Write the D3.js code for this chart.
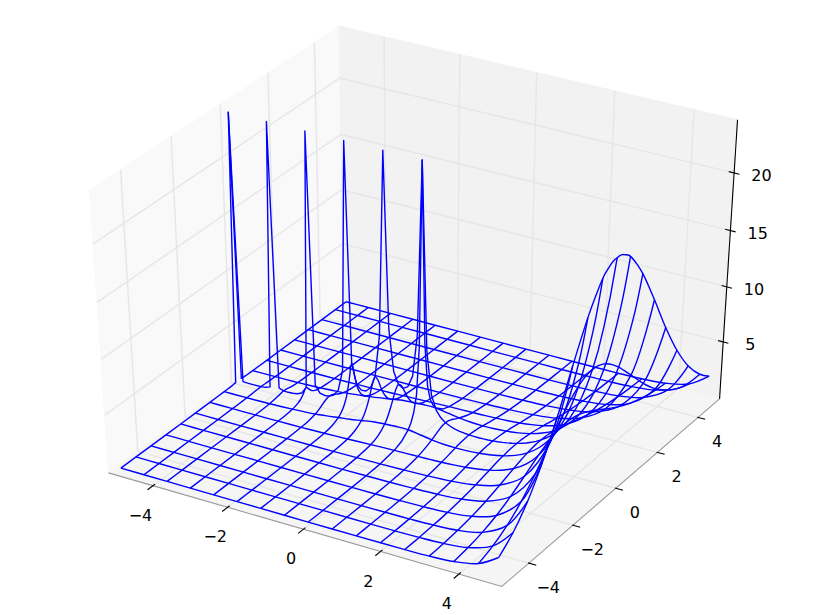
<!DOCTYPE html>
<html><head><meta charset="utf-8">
<script src="https://cdn.jsdelivr.net/npm/d3@7"></script>
<style>html,body{margin:0;padding:0;background:#fff}svg{display:block}text{font-family:"DejaVu Sans";font-size:16px;fill:#000}</style>
</head><body><svg id="c" width="815" height="615"></svg>
<script>
// ---- data ----
const xTicks=[-4,-2,0,2,4], yTicks=[-4,-2,0,2,4], zTicks=[5,10,15,20];
const xGrid=[-5,-4.375,-3.75,-3.125,-2.5,-1.875,-1.25,-0.625,0,0.625,1.25,1.875,2.5,3.125,3.75,4.375,4.875];
const yKnots=[0,.125,.25,.375,.5,.625,.9375,1.25,1.875,2.5,3.125,3.75,4.375,5];
const rowYs=[1.875,2.5,3.125,3.75,4.375];
const yEdgeBack=4.875;
// x positions of the finely read rows
const rowZeroX=[-5,-4.875,-4.75,-4.625,-4.5,-4.375,-4.25,-4.125,-4,-3.875,-3.75,-3.625,-3.5,-3.375,-3.25,-3.125,-3,
-2.875,-2.75,-2.625,-2.5,-2.375,-2.25,-2.125,-2,-1.875,-1.75,-1.625,-1.5,-1.375,-1.25,-1.125,-1,-0.875,
-0.75,-0.625,-0.5,-0.375,-0.25,-0.125,0,0.125,0.25,0.375,0.5,0.625,0.75,0.875,1,1.125,1.25,
1.375,1.5,1.625,1.75,1.875,2,2.125,2.25,2.375,2.5,2.625,2.75,2.875,3,3.125,3.25,3.375,
3.5,3.625,3.75,3.875,4,4.125,4.25,4.375,4.5,4.625,4.75,4.875];
const rowZero=[24,.085,.056,.053,.060,.079,.126,.283,24,.412,.268,.245,.270,.347,.536,1.17,24,
1.60,1.00,.889,.945,1.17,1.74,3.65,24,4.59,2.76,2.33,2.36,2.78,3.92,7.75,24,8.61,
4.83,3.79,3.54,3.83,4.90,8.72,24,7.53,3.63,2.37,1.77,1.43,1.23,1.09,1.000,.942,.906,
.889,.886,.897,.919,.953,1.00,1.06,1.13,1.22,1.33,1.46,1.61,1.79,2.00,2.25,2.55,2.90,
3.32,3.82,4.42,5.14,6.00,7.04,8.29,9.80,11.6,13.9,16.6,19.9];
const fineX=[-5,-4.6875,-4.375,-4.0625,-3.75,-3.4375,-3.125,-2.8125,-2.5,-2.1875,-1.875,-1.5625,-1.25,-0.9375,-0.625,-0.3125,0,
0.3125,0.625,0.9375,1.25,1.5625,1.875,2.1875,2.5,2.8125,3.125,3.4375,3.75,4.0625,4.375,4.6875,4.875];
const rowP625=[.008,.013,.021,.036,.056,.085,.134,.198,.277,.399,.542,.683,.866,1.05,1.14,1.20,1.20,
1.04,.866,.762,.729,.754,.835,.980,1.21,1.56,2.09,2.91,4.17,6.15,9.32,14.5,19.1];
const rowP1250=[.001,.002,.003,.006,.009,.014,.022,.033,.048,.068,.095,.127,.164,.205,.246,.283,.315,
.339,.360,.387,.427,.488,.581,.719,.925,1.23,1.69,2.40,3.50,5.24,8.04,12.6,16.7];
// columns x = const: one line per xGrid value, sampled at yKnots
const colZ=[
[24,.065,.030,.018,.012,.008,.003,.001,0,0,0,0,0,0],
[.079,.073,.058,.043,.030,.021,.008,.003,.001,0,0,0,0,0],
[.268,.233,.170,.118,.081,.056,.022,.009,.002,0,0,0,0,0],
[1.17,.805,.474,.300,.198,.134,.053,.022,.004,.001,0,0,0,0],
[.945,.879,.721,.544,.393,.277,.114,.048,.009,.002,0,0,0,0],
[4.59,3.17,1.88,1.19,.793,.542,.221,.095,.019,.004,.001,0,0,0],
[3.92,3.42,2.52,1.77,1.23,.866,.369,.164,.036,.009,.002,.001,0,0],
[3.79,3.50,2.84,2.14,1.57,1.14,.517,.246,.062,.017,.005,.002,0,0],
[24,7.90,3.80,2.39,1.65,1.20,.595,.315,.096,.031,.010,.004,.001,0],
[1.43,1.40,1.30,1.16,1.01,.866,.566,.360,.142,.055,.021,.008,.003,.001],
[.906,.898,.874,.835,.786,.729,.573,.427,.214,.099,.044,.019,.008,.003],
[.953,.948,.933,.908,.875,.835,.714,.581,.345,.184,.092,.044,.020,.009],
[1.33,1.32,1.31,1.28,1.25,1.21,1.08,.925,.614,.367,.203,.106,.053,.026],
[2.25,2.24,2.23,2.19,2.15,2.09,1.91,1.69,1.22,.790,.474,.268,.144,.074],
[4.42,4.41,4.38,4.33,4.26,4.17,3.87,3.50,2.65,1.84,1.18,.710,.406,.222],
[9.80,9.78,9.72,9.62,9.49,9.32,8.76,8.04,6.34,4.60,3.11,1.98,1.20,.691],
[19.9,19.9,19.8,19.6,19.4,19.1,18.0,16.7,13.5,10.1,7.09,4.68,2.93,1.76]];
// values on the far edge y = 4.875, one per xGrid value
const edgeBackZ=[0,0,0,0,0,0,0,0,.001,.001,.004,.011,.030,.085,.252,.777,1.96];

// ---- scales and projection ----
const sx=d3.scaleLinear().domain([-5.206,5.081]).range([0,1]);
const sy=d3.scaleLinear().domain([-5.206,5.081]).range([0,1]);
const sz=d3.scaleLinear().domain([-0.3,24.5]).range([0,1]);
const elev=36*Math.PI/180, azim=-59.5*Math.PI/180, dist=10;
const se=Math.sin(elev),ce=Math.cos(elev),sa=Math.sin(azim),ca=Math.cos(azim);
const nV=[ce*ca,ce*sa,se], uV=[-sa,ca,0], vV=[-se*ca,-se*sa,ce];
const px=d3.scaleLinear().domain([0,1]).range([418.3,418.3+4593]);
const py=d3.scaleLinear().domain([0,1]).range([299,299-3470]);
function cube(f){
  const p=[f[0]-.5,f[1]-.5,f[2]-.5];
  const dot=(a)=>a[0]*p[0]+a[1]*p[1]+a[2]*p[2];
  const w=dist-dot(nV);
  return [px(dot(uV)/w),py(dot(vV)/w)];
}
const P=(x,y,z)=>cube([sx(x),sy(y),sz(z)]);
const svg=d3.select('#c');

const poly=(pts)=>pts.map(cube).map(p=>p.join(',')).join(' ');
const panes=[
 {c:'#f9f9f9',p:[[0,0,0],[0,1,0],[0,1,1],[0,0,1]]},
 {c:'#f2f2f2',p:[[0,1,0],[1,1,0],[1,1,1],[0,1,1]]},
 {c:'#f5f5f5',p:[[0,0,0],[1,0,0],[1,1,0],[0,1,0]]}];
svg.selectAll('polygon.pane').data(panes).join('polygon').attr('class','pane')
 .attr('points',d=>poly(d.p)).attr('fill',d=>d.c).attr('stroke',d=>d.c).attr('stroke-width',1);

const line=d3.line();
const grids=[];
xTicks.forEach(t=>{const a=sx(t);grids.push([[a,0,0],[a,1,0],[a,1,1]])});
yTicks.forEach(t=>{const a=sy(t);grids.push([[1,a,0],[0,a,0],[0,a,1]])});
zTicks.forEach(t=>{const a=sz(t);grids.push([[0,0,a],[0,1,a],[1,1,a]])});
svg.append('g').selectAll('path').data(grids).join('path')
 .attr('d',d=>line(d.map(cube))).attr('fill','none').attr('stroke','#e6e6e6').attr('stroke-width',1.4);

const axes=[{c:'#999999',p:[[0,0,0],[1,0,0],[1,1,0]]},{c:'#000000',p:[[1,1,0],[1,1,1]]}];
svg.append('g').selectAll('path').data(axes).join('path')
 .attr('d',d=>line(d.p.map(cube))).attr('fill','none').attr('stroke',d=>d.c).attr('stroke-width',1.1);

const tickG=svg.append('g').attr('stroke','#000').attr('stroke-width',1.1);
const label=(xy,t)=>svg.append('text').attr('x',xy[0]).attr('y',xy[1]).attr('text-anchor','middle')
   .attr('dy','.36em').text(String(t).replace('-','\u2212'));
const seg=(a,b)=>tickG.append('line').attr('x1',a[0]).attr('y1',a[1]).attr('x2',b[0]).attr('y2',b[1]);
xTicks.forEach(t=>{const a=cube([sx(t),.008,0]),b=cube([sx(t),-.022,0]);seg(a,b);label([b[0]-7,b[1]+25],t)});
yTicks.forEach(t=>{const a=cube([.998,sy(t),0]),b=cube([1.018,sy(t),0]);seg(a,b);label([b[0]+12,b[1]+22],t)});
zTicks.forEach(t=>{const a=cube([.987,1,sz(t)]),b=cube([1.013,1,sz(t)]);seg(a,b);label([b[0]+22,b[1]+1],t)});

const smooth=d3.line().curve(d3.curveCatmullRom.alpha(.5));
const wire=[];
wire.push({f:line,pts:rowZeroX.map((x,k)=>P(x,0,rowZero[k]))});
[[.625,rowP625],[1.25,rowP1250]].forEach(([y,a])=>[y,-y].forEach(s=>wire.push({f:smooth,pts:fineX.map((x,k)=>P(x,s,a[k]))})));
rowYs.forEach(y=>{const j=yKnots.indexOf(y);[y,-y].forEach(s=>wire.push({f:smooth,pts:xGrid.map((x,i)=>P(x,s,colZ[i][j]))}))});
wire.push({f:smooth,pts:xGrid.map((x,i)=>P(x,-5,colZ[i][yKnots.length-1]))});
wire.push({f:smooth,pts:xGrid.map((x,i)=>P(x,yEdgeBack,edgeBackZ[i]))});
xGrid.forEach((x,i)=>{
  const pts=[];
  for(let j=yKnots.length-1;j>0;j--)pts.push(P(x,-yKnots[j],colZ[i][j]));
  for(let j=0;j<yKnots.length-1;j++)pts.push(P(x,yKnots[j],colZ[i][j]));
  pts.push(P(x,yEdgeBack,edgeBackZ[i]));
  wire.push({f:colZ[i][0]===24?line:smooth,pts});
});
svg.append('g').selectAll('path').data(wire).join('path')
 .attr('d',d=>d.f(d.pts)).attr('fill','none').attr('stroke','#0000ff').attr('stroke-width',1.4).attr('stroke-linejoin','round');
</script></body></html>
